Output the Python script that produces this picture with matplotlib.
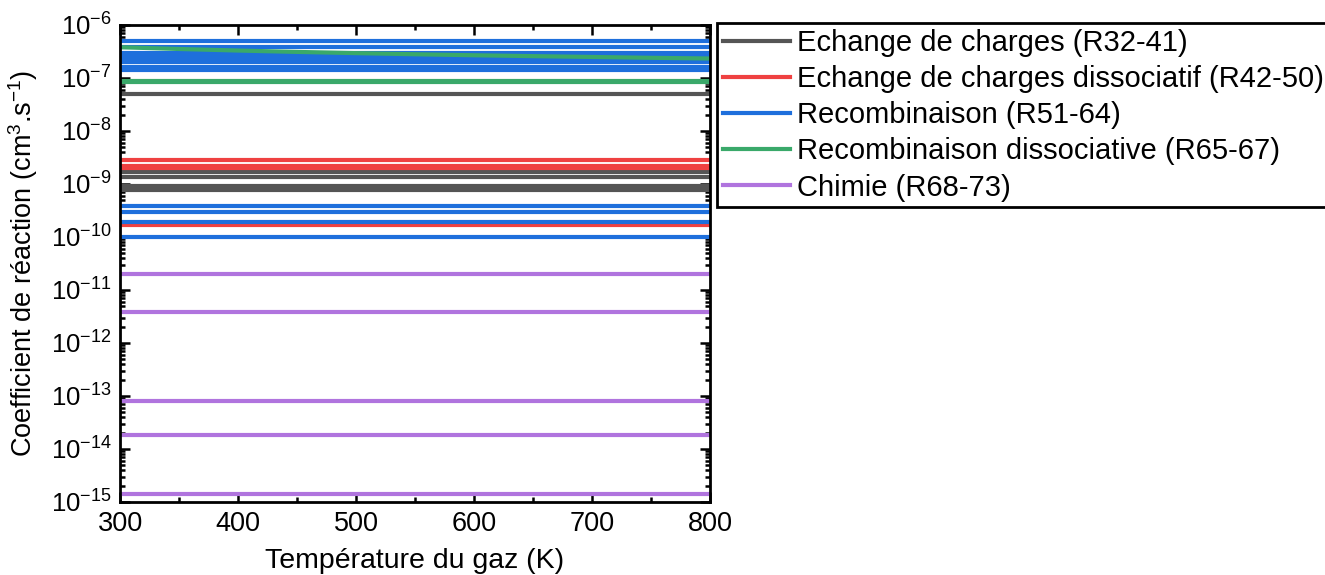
import numpy as np
import matplotlib.pyplot as plt
from matplotlib.ticker import FixedLocator, LogLocator, FuncFormatter, NullFormatter

plt.rcParams['font.family'] = ['Liberation Sans', 'DejaVu Sans']
plt.rcParams['mathtext.default'] = 'regular'

# temperature range (K)
T = [300, 800]
T_steps = [300, 350, 400, 450, 500, 550, 600, 650, 700, 750, 800]

# rate coefficients (cm3.s-1)
echange = [1.65e-9, 1.35e-9, 9.3e-10, 7.6e-10, 5.0e-8]
echange_diss = [2.85e-9, 2.2e-9, 2.0e-9, 1.66e-10]
recombinaison = [4.9e-7, 3.8e-7, 2.96e-7, 2.6e-7, 2.3e-7, 2.0e-7,
                 1.58e-7, 1.42e-7, 3.8e-10, 2.9e-10, 1.95e-10, 1.0e-10]
recomb_diss_const = [8.5e-8, 8.7e-8]
recomb_diss_T = [3.80e-7, 3.52e-7, 3.29e-7, 3.10e-7, 2.94e-7, 2.80e-7,
                 2.68e-7, 2.58e-7, 2.49e-7, 2.40e-7, 2.33e-7]
chimie = [2.0e-11, 3.9e-12, 8.0e-14, 1.85e-14, 1.4e-15]

labels = ['Echange de charges (R32-41)',
          'Echange de charges dissociatif (R42-50)',
          'Recombinaison (R51-64)',
          'Recombinaison dissociative (R65-67)',
          'Chimie (R68-73)']
colors = ['#555555', '#ef4141', '#1e6fdc', '#3aa96a', '#b074de']

fig = plt.figure(figsize=(13.25, 5.75), dpi=100)
ax = fig.add_axes([0.0906, 0.127, 0.4453, 0.8296])
lw = 3

for k in echange:
    ax.plot(T, [k, k], color=colors[0], lw=lw)
for k in echange_diss:
    ax.plot(T, [k, k], color=colors[1], lw=lw)
for k in recombinaison:
    ax.plot(T, [k, k], color=colors[2], lw=lw)
for k in recomb_diss_const:
    ax.plot(T, [k, k], color=colors[3], lw=lw)
ax.plot(T_steps, recomb_diss_T, color=colors[3], lw=lw)
for k in chimie:
    ax.plot(T, [k, k], color=colors[4], lw=lw)

ax.set_yscale('log')
ax.set_xlim(300, 800)
ax.set_ylim(1e-15, 1e-6)

ax.xaxis.set_major_locator(FixedLocator([300, 400, 500, 600, 700, 800]))
ax.xaxis.set_minor_locator(FixedLocator([350, 450, 550, 650, 750]))
ax.yaxis.set_major_locator(LogLocator(base=10, numticks=20))
ax.yaxis.set_minor_locator(LogLocator(base=10, subs=np.arange(2, 10), numticks=20))
ax.yaxis.set_major_formatter(FuncFormatter(lambda v, p: '10$^{%d}$' % round(np.log10(v))))
ax.yaxis.set_minor_formatter(NullFormatter())

ax.tick_params(which='both', direction='in', top=True, right=True, width=1.8)
ax.tick_params(which='major', length=7)
ax.tick_params(which='minor', length=3.5)
ax.tick_params(axis='x', which='major', labelsize=19.5, pad=6.5)
ax.tick_params(axis='y', which='major', labelsize=18.5, pad=6)
for s in ax.spines.values():
    s.set_linewidth(2)

ax.set_xlabel('Température du gaz (K)', fontsize=20.5, labelpad=8)
ax.set_ylabel('Coefficient de réaction (cm$^3$.s$^{-1}$)', fontsize=19.5)
ax.yaxis.set_label_coords(-0.136, 0.5)

handles = [plt.Line2D([], [], color=c, lw=lw) for c in colors]
leg = ax.legend(handles, labels, loc='upper left', bbox_to_anchor=(1.012, 1.004),
                borderaxespad=0, fontsize=21, frameon=True, fancybox=False,
                edgecolor='black', framealpha=1, handlelength=2.3,
                handletextpad=0.25, labelspacing=0.28, borderpad=0.2)
leg.get_frame().set_linewidth(2)

fig.savefig('out.png', dpi=100)
